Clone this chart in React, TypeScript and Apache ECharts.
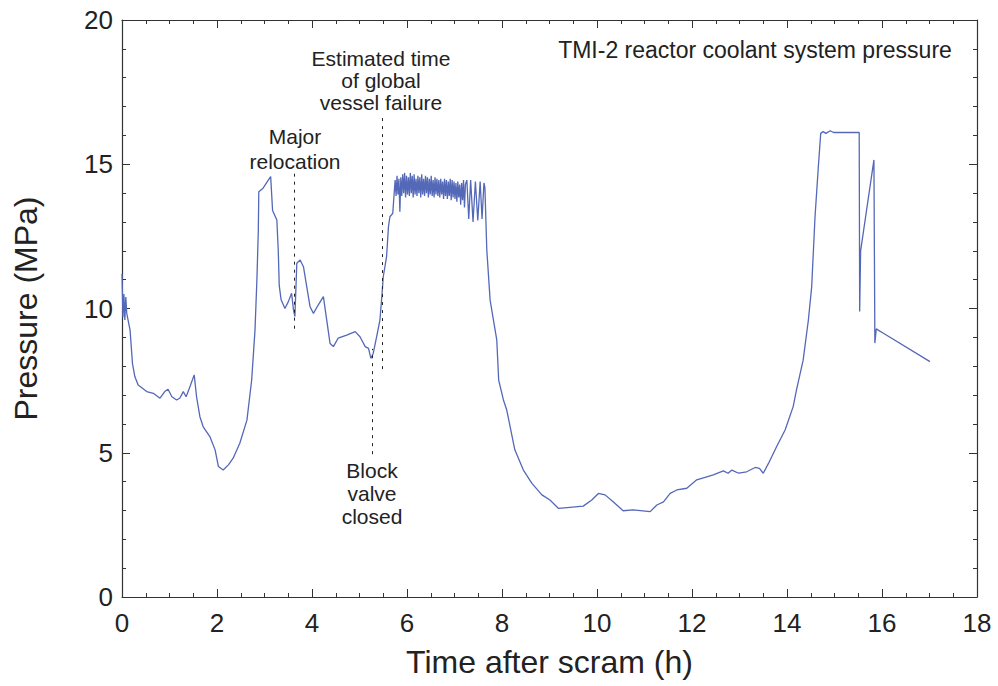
import React, { useEffect, useRef } from "react";
import * as echarts from "echarts";

// Time after scram (h), pressure (MPa)
const initialTransient: [number, number][] = [
  [0.0, 11.2], [0.02, 9.7], [0.04, 10.5], [0.06, 9.6], [0.08, 10.4], [0.1, 9.83],
  [0.17, 9.25], [0.22, 8.1], [0.27, 7.64], [0.34, 7.35], [0.52, 7.12], [0.66, 7.06],
  [0.8, 6.89], [0.9, 7.12], [0.97, 7.2], [1.05, 6.94], [1.15, 6.83], [1.22, 6.9],
  [1.29, 7.12], [1.35, 6.94], [1.43, 7.29], [1.52, 7.7], [1.57, 6.94], [1.64, 6.25],
  [1.71, 5.9], [1.85, 5.56], [1.96, 5.1], [2.03, 4.52], [2.13, 4.4], [2.24, 4.58],
  [2.34, 4.81], [2.48, 5.33], [2.63, 6.13], [2.73, 7.52], [2.8, 9.25], [2.84, 11.0],
  [2.87, 12.7], [2.88, 14.05], [2.97, 14.17], [3.08, 14.45], [3.13, 14.57],
  [3.17, 13.4], [3.26, 13.07], [3.29, 12.0], [3.31, 10.8], [3.35, 10.3], [3.43, 10.0],
  [3.5, 10.23], [3.57, 10.53], [3.61, 9.95], [3.64, 9.72], [3.68, 11.57], [3.75, 11.68],
  [3.82, 11.45], [3.89, 10.75], [3.96, 10.06], [4.03, 9.83], [4.13, 10.12], [4.24, 10.41],
  [4.31, 9.6], [4.38, 8.79], [4.45, 8.68], [4.55, 8.97], [4.73, 9.08], [4.91, 9.2],
  [5.01, 9.02], [5.12, 8.68], [5.19, 8.62], [5.24, 8.27], [5.29, 8.45], [5.36, 9.02],
  [5.43, 9.6], [5.47, 10.41], [5.5, 11.1], [5.57, 11.8], [5.61, 12.84], [5.64, 13.18],
  [5.7, 13.3],
];

const highPressurePlateau: [number, number][] = [
  [5.75, 14.45], [5.77, 13.9], [5.79, 14.6], [5.81, 13.95], [5.83, 14.5], [5.85, 13.35],
  [5.87, 14.55], [5.89, 13.9], [5.91, 14.65], [5.93, 14.0], [5.95, 14.7], [5.97, 13.85],
  [5.99, 14.6], [6.01, 13.95], [6.03, 14.55], [6.05, 13.9], [6.07, 14.7], [6.09, 14.0],
  [6.11, 14.6], [6.13, 13.85], [6.15, 14.65], [6.17, 13.95], [6.19, 14.5], [6.21, 13.9],
  [6.23, 14.6], [6.25, 14.0], [6.27, 14.55], [6.29, 13.85], [6.31, 14.65], [6.33, 13.95],
  [6.35, 14.5], [6.37, 13.9], [6.39, 14.6], [6.41, 14.0], [6.43, 14.55], [6.45, 13.85],
  [6.47, 14.5], [6.49, 13.95], [6.51, 14.6], [6.53, 13.9], [6.55, 14.45], [6.57, 13.85],
  [6.59, 14.55], [6.61, 13.95], [6.63, 14.5], [6.65, 13.9], [6.67, 14.45], [6.69, 13.85],
  [6.71, 14.5], [6.73, 13.95], [6.75, 14.4], [6.77, 13.8], [6.79, 14.5], [6.81, 13.9],
  [6.83, 14.45], [6.85, 13.8], [6.87, 14.4], [6.89, 13.9], [6.91, 14.5], [6.93, 13.75],
  [6.95, 14.45], [6.97, 13.85], [6.99, 14.4], [7.01, 13.8], [7.03, 14.35], [7.05, 13.7],
  [7.07, 14.4], [7.09, 13.85], [7.11, 14.3], [7.13, 13.6], [7.15, 14.35], [7.17, 13.75],
  [7.19, 14.45], [7.21, 13.5], [7.23, 14.3], [7.26, 14.45], [7.3, 13.1], [7.34, 14.45],
  [7.39, 13.0], [7.44, 14.4], [7.49, 13.05], [7.54, 14.4], [7.58, 13.1], [7.62, 14.35],
];

const depressurization: [number, number][] = [
  [7.64, 14.2], [7.68, 12.03], [7.75, 10.29], [7.82, 9.6], [7.89, 8.91], [7.93, 7.52],
  [8.03, 6.83], [8.1, 6.48], [8.27, 5.1], [8.45, 4.4], [8.63, 3.94], [8.84, 3.54],
  [9.01, 3.36], [9.19, 3.07], [9.43, 3.11], [9.71, 3.15], [9.89, 3.36], [10.03, 3.59],
  [10.17, 3.54], [10.34, 3.3], [10.55, 2.99], [10.76, 3.02], [11.12, 2.96], [11.26, 3.19],
  [11.4, 3.3], [11.54, 3.59], [11.68, 3.71], [11.89, 3.77], [12.1, 4.06], [12.45, 4.23],
  [12.66, 4.37], [12.76, 4.29], [12.84, 4.4], [12.98, 4.29], [13.15, 4.34], [13.33, 4.49],
  [13.42, 4.46], [13.5, 4.29], [13.61, 4.63], [13.78, 5.21], [13.96, 5.79], [14.13, 6.6],
];

const repressurization: [number, number][] = [
  [14.2, 7.18], [14.34, 8.21], [14.45, 9.6], [14.52, 10.76], [14.59, 13.18], [14.66, 14.92],
  [14.71, 16.07], [14.76, 16.13], [14.82, 16.07], [14.91, 16.16], [14.98, 16.1],
  [15.52, 16.1], [15.53, 9.9], [15.55, 12.0], [15.83, 15.15], [15.85, 8.8], [15.88, 9.3],
  [15.92, 9.25], [16.03, 9.14], [17.01, 8.16],
];

const xTicks = [0, 2, 4, 6, 8, 10, 12, 14, 16, 18];
const yTicks = [0, 5, 10, 15, 20];

const eventLines = [
  { name: "Major relocation", t: 3.63, from: 9.3, to: 14.8 },
  { name: "Estimated time of global vessel failure", t: 5.47, from: 7.9, to: 16.6 },
  { name: "Block valve closed", t: 5.26, from: 4.95, to: 8.6 },
];

const FONT = "'Liberation Sans', Arial, Helvetica, sans-serif";
const TEXT = "#222";
const AXIS = "#333";

export default function App() {
  const ref = useRef<HTMLDivElement>(null);
  useEffect(() => {
    if (!ref.current) return;
    const chart = echarts.init(ref.current, undefined, { renderer: "svg" });
    const series = [
      ...initialTransient,
      ...highPressurePlateau,
      ...depressurization,
      ...repressurization,
    ];
    const baseX = {
      type: "value" as const,
      min: xTicks[0],
      max: xTicks[xTicks.length - 1],
      interval: 2,
      splitLine: { show: false },
      axisLine: { show: true, onZero: false, lineStyle: { color: AXIS, width: 1.2 } },
      axisTick: { show: true, inside: true, length: 8, lineStyle: { color: AXIS } },
      minorTick: { show: true, splitNumber: 4, length: 4, lineStyle: { color: AXIS } },
    };
    const baseY = {
      type: "value" as const,
      min: yTicks[0],
      max: yTicks[yTicks.length - 1],
      interval: 5,
      splitLine: { show: false },
      axisLine: { show: true, onZero: false, lineStyle: { color: AXIS, width: 1.2 } },
      axisTick: { show: true, inside: true, length: 8, lineStyle: { color: AXIS } },
      minorTick: { show: true, splitNumber: 5, length: 4, lineStyle: { color: AXIS } },
    };
    chart.setOption({
      animation: false,
      backgroundColor: "#fff",
      grid: { left: 122, right: 21, top: 20, bottom: 89 },
      xAxis: [
        {
          ...baseX,
          position: "bottom",
          name: "Time after scram (h)",
          nameLocation: "middle",
          nameGap: 49,
          nameTextStyle: { fontFamily: FONT, fontSize: 32, color: TEXT },
          axisLabel: { fontFamily: FONT, fontSize: 26, color: TEXT, margin: 13 },
        },
        { ...baseX, position: "top", axisLabel: { show: false } },
      ],
      yAxis: [
        {
          ...baseY,
          position: "left",
          name: "Pressure (MPa)",
          nameLocation: "middle",
          nameGap: 80,
          nameTextStyle: { fontFamily: FONT, fontSize: 32, color: TEXT },
          axisLabel: { fontFamily: FONT, fontSize: 26, color: TEXT, margin: 9 },
        },
        { ...baseY, position: "right", axisLabel: { show: false } },
      ],
      series: [
        {
          type: "line",
          data: series,
          showSymbol: false,
          symbol: "none",
          lineStyle: { color: "#5468b8", width: 1.3 },
          markLine: {
            silent: true,
            symbol: "none",
            label: { show: false },
            lineStyle: { color: "#222", type: [3, 5], width: 1 },
            data: eventLines.map((e) => [
              { coord: [e.t, e.from] },
              { coord: [e.t, e.to] },
            ]),
          },
        },
      ],
      graphic: [
        {
          type: "text",
          x: 755,
          y: 50,
          style: {
            text: "TMI-2 reactor coolant system pressure",
            font: `23px ${FONT}`,
            fill: TEXT,
            align: "center",
            verticalAlign: "middle",
          },
        },
        {
          type: "text",
          x: 381,
          y: 80,
          style: {
            text: "Estimated time\nof global\nvessel failure",
            font: `21px ${FONT}`,
            lineHeight: 22,
            fill: TEXT,
            align: "center",
            verticalAlign: "middle",
          },
        },
        {
          type: "text",
          x: 295,
          y: 149,
          style: {
            text: "Major\nrelocation",
            font: `21px ${FONT}`,
            lineHeight: 25,
            fill: TEXT,
            align: "center",
            verticalAlign: "middle",
          },
        },
        {
          type: "text",
          x: 372,
          y: 493,
          style: {
            text: "Block\nvalve\nclosed",
            font: `21px ${FONT}`,
            lineHeight: 23,
            fill: TEXT,
            align: "center",
            verticalAlign: "middle",
          },
        },
      ],
    });
    return () => chart.dispose();
  }, []);
  return (
    <div
      ref={ref}
      style={{ position: "fixed", left: 0, top: 0, width: 998, height: 686 }}
    />
  );
}
